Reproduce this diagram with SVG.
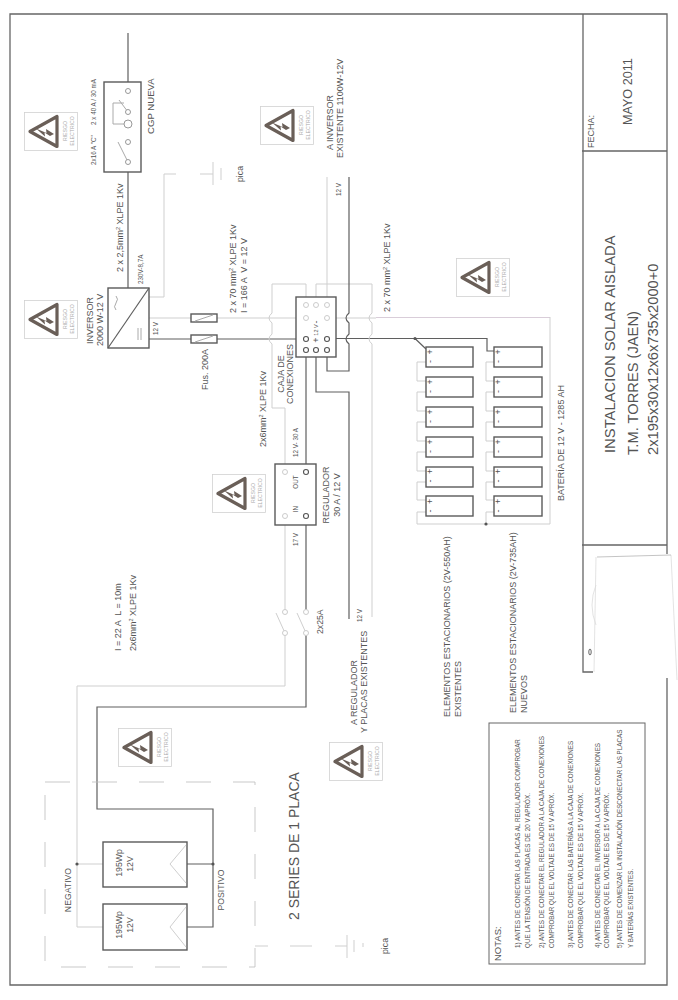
<svg xmlns="http://www.w3.org/2000/svg" width="678" height="1000" viewBox="0 0 678 1000">
<style>
text{font-family:"Liberation Sans",Arial,sans-serif;fill:#555}
.m{text-anchor:middle}
.s8{font-size:9px}.s75{font-size:9px}.s7{font-size:8.7px}.s55{font-size:6.3px}.s5{font-size:6.3px}
.sign{font-size:5.2px;fill:#aaa;text-anchor:middle}
.b{fill:none;stroke:#666;stroke-width:1.3}
.d{fill:none;stroke:#5f5f5f;stroke-width:1.2}
.l{fill:none;stroke:#cfcfcf;stroke-width:1}
.box{fill:#fff;stroke:#5a5a5a;stroke-width:1.4}
.td{fill:#fff;stroke:#555;stroke-width:1.1}
.tl{fill:#fff;stroke:#ccc;stroke-width:1}
.sr{fill:#fff;stroke:#d2d2d2;stroke-width:.8}
</style>
<defs>
<g id="warn">
<rect class="sr" x="0.5" y="0.5" width="53" height="38"/>
<path d="M6 19.5 33 4.5V34.5Z" fill="#fff" stroke="#6a5f58" stroke-width="3.2" stroke-linejoin="round"/>
<path d="M30 22 22 17 22.5 21 12 16.5 21 24.5 20.5 20.5 26 24 Z" fill="#6a5f58"/>
</g>
<circle id="dot" r="1.6" fill="#555"/>
</defs>
<rect width="678" height="1000" fill="#fff"/>

<g id="frame">
<path class="b" d="M667 554V14H10V985H667V678"/>
<path class="b" d="M582 151H667M582 545H667M593 672H583V14"/>
<path d="M596 557 594 672M596 585Q588 605 596 625M671 555 677 680" fill="none" stroke="#dcdcdc" stroke-width=".8"/>
<path d="M597 557 671 555" fill="none" stroke="#aaa" stroke-width=".7"/>
<ellipse cx="590" cy="652" rx="1.2" ry="3" fill="none" stroke="#666" stroke-width="1"/>
</g>

<g id="connectors">
<path class="d" d="M128 33V82M128 172V288"/>
<path class="l" d="M149 297H164V174H176M200 174H213M213 162V185M221 168V180"/>
<path class="l" d="M149 318H191M217 318H306M327 318H376"/>
<path class="d" d="M149 339H191M217 339H306"/>
<path d="M376 317.5H550" fill="none" stroke="#d9cdd9" stroke-width="1"/>
<path class="d" d="M327 338.5H487V351H494M415 338.5 426 349"/>
<path class="l" d="M306 305V284H272V313Q266 318 272 323V334Q266 339 272 344V408H285V464"/>
<path class="l" d="M316 305V284H372V313Q366 318 372 323V334Q366 339 372 344V617"/>
<path class="l" d="M327 305V177"/>
<path class="d" d="M349 177V313Q343 318 349 323V334Q343 339 349 344V371H327V350"/>
<path class="d" d="M316 350V392H349V619"/>
<path class="d" d="M306 350V472"/>
<path class="l" d="M550 317V524H417V512H426M426 482H417V500H426M426 452H417V471H426M426 422H417V441H426M426 392H417V411H426M426 362H417V381H426"/>
<path class="l" d="M486 524V512H494M494 482H486V500H494M494 452H486V471H494M494 422H486V441H494M494 392H486V411H494M494 362H486V381H494"/>
<path class="l" d="M285 516V612M285 633V686H77V927H103M77 864H103"/>
<path class="d" d="M306 516V612M306 633V707H97V809H213V927H187M213 864H187"/>
<path class="l" d="M285 633 276 613M306 633 297 613"/>
<path class="l" d="M255 946H268M290 946H312M335 946H347M347 935V958M354 940V952M363 943V947"/>
</g>

<g id="cgp">
<rect class="box" x="104" y="82" width="37" height="90"/>
<path class="l" style="stroke:#aaa" d="M128 112 119 100M124 103H113V124H124M128 162 118 142"/>
<circle class="tl" style="stroke:#999" cx="128" cy="91" r="2.5"/>
<circle class="tl" style="stroke:#999" cx="128" cy="112" r="2.5"/>
<circle class="tl" style="stroke:#999" cx="128" cy="124" r="4"/>
<circle class="tl" style="stroke:#999" cx="128" cy="142" r="2.5"/>
<circle class="tl" style="stroke:#999" cx="128" cy="162" r="2.5"/>
<text transform="translate(154 134) rotate(-90)" style="font-size:9.6px">CGP NUEVA</text>
<text class="s5" transform="translate(96 165) rotate(-90)">2x16 A "C"</text>
<text class="s5" transform="translate(96 125) rotate(-90)">2 x 40 A / 30 mA</text>
</g>

<g id="sign1" transform="translate(24 112)"><use href="#warn"/><text class="sign" transform="translate(43 19) rotate(-90)">RIESGO</text><text class="sign" transform="translate(49.5 19) rotate(-90)">ELECTRICO</text></g>
<g id="sign2" transform="translate(24 300)"><use href="#warn"/><text class="sign" transform="translate(43 19) rotate(-90)">RIESGO</text><text class="sign" transform="translate(49.5 19) rotate(-90)">ELECTRICO</text></g>
<g id="sign3" transform="translate(260 106)"><use href="#warn"/><text class="sign" transform="translate(43 19) rotate(-90)">RIESGO</text><text class="sign" transform="translate(49.5 19) rotate(-90)">ELECTRICO</text></g>
<g id="sign4" transform="translate(456 258)"><use href="#warn"/><text class="sign" transform="translate(43 19) rotate(-90)">RIESGO</text><text class="sign" transform="translate(49.5 19) rotate(-90)">ELECTRICO</text></g>
<g id="sign5" transform="translate(212 474)"><use href="#warn"/><text class="sign" transform="translate(43 19) rotate(-90)">RIESGO</text><text class="sign" transform="translate(49.5 19) rotate(-90)">ELECTRICO</text></g>
<g id="sign6" transform="translate(118 728)"><use href="#warn"/><text class="sign" transform="translate(43 19) rotate(-90)">RIESGO</text><text class="sign" transform="translate(49.5 19) rotate(-90)">ELECTRICO</text></g>
<g id="sign7" transform="translate(329 742)"><use href="#warn"/><text class="sign" transform="translate(43 19) rotate(-90)">RIESGO</text><text class="sign" transform="translate(49.5 19) rotate(-90)">ELECTRICO</text></g>

<g id="inversor">
<rect class="box" x="108" y="288" width="41" height="60"/>
<path class="d" d="M149 288 108 348"/>
<path class="l" style="stroke:#aaa" d="M116 296Q119 299 116 303Q113 307 116 310M138 328V340M141 328V340"/>
<text class="s8" transform="translate(93 344) rotate(-90)">INVERSOR</text>
<text class="s8" transform="translate(103 346) rotate(-90)">2000 W-12 V</text>
<text class="s5" transform="translate(143 284) rotate(-90)">230V-8,7A</text>
<text class="s5" transform="translate(158 335) rotate(-90)">12 V</text>
</g>

<g id="fusibles">
<rect class="box" x="191" y="314" width="26" height="8"/>
<rect class="box" x="191" y="335" width="26" height="8"/>
<path class="l" style="stroke:#aaa" d="M195 321 213 315M195 342 213 336"/>
<text class="s75" transform="translate(208 390) rotate(-90)">Fus. 200A</text>
</g>

<g id="caja">
<rect class="box" x="296" y="297" width="40" height="60"/>
<circle class="tl" cx="306" cy="305" r="2.5"/><circle class="tl" cx="316" cy="305" r="2.5"/><circle class="tl" cx="327" cy="305" r="2.5"/>
<circle class="tl" cx="306" cy="318" r="2.5"/><circle class="tl" cx="327" cy="318" r="2.5"/>
<circle class="td" cx="306" cy="339" r="2.5"/><circle class="td" cx="327" cy="339" r="2.5"/>
<circle class="td" cx="306" cy="350" r="2.5"/><circle class="td" cx="316" cy="350" r="2.5"/><circle class="td" cx="327" cy="350" r="2.5"/>
<text class="s8 m" transform="translate(319 322) rotate(-90)">-</text>
<text class="m" transform="translate(318 330) rotate(-90)" style="font-size:5.5px">12 V</text>
<text class="s8 m" transform="translate(319 340) rotate(-90)">+</text>
<text class="s8 m" transform="translate(284 374) rotate(-90)">CAJA DE</text>
<text class="s8 m" transform="translate(293 374) rotate(-90)">CONEXIONES</text>
</g>

<g id="regulador">
<rect class="box" x="275" y="464" width="41" height="61"/>
<circle class="tl" cx="285" cy="472" r="2.5"/><circle class="td" cx="306" cy="472" r="2.5"/>
<circle class="tl" cx="285" cy="516" r="2.5"/><circle class="td" cx="306" cy="516" r="2.5"/>
<text class="s5 m" transform="translate(298 482) rotate(-90)">OUT</text>
<text class="s5 m" transform="translate(298 509) rotate(-90)">IN</text>
<text class="s8 m" transform="translate(329 495) rotate(-90)">REGULADOR</text>
<text class="s8 m" transform="translate(340 495) rotate(-90)">30 A / 12 V</text>
<text class="s5" transform="translate(298 457) rotate(-90)">12 V- 30 A</text>
<text class="s5" transform="translate(298 546) rotate(-90)">17 V</text>
</g>

<g id="interruptor">
<circle class="tl" cx="285" cy="612" r="2.5"/><circle class="tl" cx="285" cy="633" r="2.5"/>
<circle class="tl" cx="306" cy="612" r="2.5"/><circle class="tl" cx="306" cy="633" r="2.5"/>
<text class="s7" transform="translate(323 634) rotate(-90)">2x25A</text>
</g>

<g id="baterias">
<rect class="box" x="426" y="347" width="47" height="20"/><rect class="box" x="426" y="377" width="47" height="20"/><rect class="box" x="426" y="407" width="47" height="20"/><rect class="box" x="426" y="437" width="47" height="20"/><rect class="box" x="426" y="467" width="47" height="20"/><rect class="box" x="426" y="496" width="47" height="20"/>
<rect class="box" x="494" y="347" width="48" height="20"/><rect class="box" x="494" y="377" width="48" height="20"/><rect class="box" x="494" y="407" width="48" height="20"/><rect class="box" x="494" y="437" width="48" height="20"/><rect class="box" x="494" y="467" width="48" height="20"/><rect class="box" x="494" y="496" width="48" height="20"/>
<g class="s8">
<text transform="translate(433 354.5) rotate(-90)">+</text><text transform="translate(433 363) rotate(-90)">-</text>
<text transform="translate(433 384.5) rotate(-90)">+</text><text transform="translate(433 393) rotate(-90)">-</text>
<text transform="translate(433 414.5) rotate(-90)">+</text><text transform="translate(433 423) rotate(-90)">-</text>
<text transform="translate(433 444.5) rotate(-90)">+</text><text transform="translate(433 453) rotate(-90)">-</text>
<text transform="translate(433 474) rotate(-90)">+</text><text transform="translate(433 482.5) rotate(-90)">-</text>
<text transform="translate(433 504) rotate(-90)">+</text><text transform="translate(433 512.5) rotate(-90)">-</text>
<text transform="translate(501 354.5) rotate(-90)">+</text><text transform="translate(501 363) rotate(-90)">-</text>
<text transform="translate(501 384.5) rotate(-90)">+</text><text transform="translate(501 393) rotate(-90)">-</text>
<text transform="translate(501 414.5) rotate(-90)">+</text><text transform="translate(501 423) rotate(-90)">-</text>
<text transform="translate(501 444.5) rotate(-90)">+</text><text transform="translate(501 453) rotate(-90)">-</text>
<text transform="translate(501 474) rotate(-90)">+</text><text transform="translate(501 482.5) rotate(-90)">-</text>
<text transform="translate(501 504) rotate(-90)">+</text><text transform="translate(501 512.5) rotate(-90)">-</text>
</g>
<use href="#dot" x="415" y="338.5"/><use href="#dot" x="486" y="524"/>
<text class="s75" transform="translate(564 501) rotate(-90)">BATERÍA DE 12 V - 1285 AH</text>
<text class="s8" transform="translate(450 717) rotate(-90)">ELEMENTOS ESTACIONARIOS (2V-550AH)</text>
<text class="s8" transform="translate(461 717) rotate(-90)">EXISTENTES</text>
<text class="s8" transform="translate(516 713) rotate(-90)">ELEMENTOS ESTACIONARIOS (2V-735AH)</text>
<text class="s8" transform="translate(527 713) rotate(-90)">NUEVOS</text>
</g>

<g id="placas">
<path d="M45 782H255V967H45Z" fill="none" stroke="#bbb" stroke-width=".8" stroke-dasharray="25 22"/>
<rect class="box" x="103" y="842" width="84" height="45"/>
<rect class="box" x="103" y="904" width="84" height="46"/>
<path class="l" d="M186 845 170 864 186 883M186 907 170 927 186 947"/>
<use href="#dot" x="77" y="864"/><use href="#dot" x="213" y="864"/>
<text class="s7 m" transform="translate(122 863) rotate(-90)">195Wp</text>
<text class="s7 m" transform="translate(133 864) rotate(-90)">12V</text>
<text class="s7 m" transform="translate(122 925) rotate(-90)">195Wp</text>
<text class="s7 m" transform="translate(133 925) rotate(-90)">12V</text>
<text class="s7 m" transform="translate(71 890) rotate(-90)">NEGATIVO</text>
<text class="s7 m" transform="translate(224 890) rotate(-90)">POSITIVO</text>
<text transform="translate(299 920) rotate(-90)" style="font-size:14px">2 SERIES DE 1 PLACA</text>
<text class="s7 m" transform="translate(388 946) rotate(-90)">pica</text>
</g>

<g id="etiquetas">
<text class="s7 m" transform="translate(243 174) rotate(-90)">pica</text>
<text class="s8" transform="translate(123 272) rotate(-90)">2 x 2,5mm<tspan dy="-3" font-size="5.5">2</tspan><tspan dy="3"> XLPE 1Kv</tspan></text>
<text class="s8" transform="translate(236 313) rotate(-90)">2 x 70 mm<tspan dy="-3" font-size="5.5">2</tspan><tspan dy="3"> XLPE 1Kv</tspan></text>
<text class="s8" transform="translate(247 313) rotate(-90)" xml:space="preserve">I = 166 A  V = 12 V</text>
<text class="s8" transform="translate(390 312) rotate(-90)">2 x 70 mm<tspan dy="-3" font-size="5.5">2</tspan><tspan dy="3"> XLPE 1Kv</tspan></text>
<text class="s8" transform="translate(266 447) rotate(-90)">2x6mm<tspan dy="-3" font-size="5.5">2</tspan><tspan dy="3"> XLPE 1Kv</tspan></text>
<text class="s8" transform="translate(333 150) rotate(-90)">A INVERSOR</text>
<text class="s8" transform="translate(343 158) rotate(-90)">EXISTENTE 1100W-12V</text>
<text class="s5" transform="translate(341 196) rotate(-90)">12 V</text>
<text class="s8" transform="translate(121 651) rotate(-90)" xml:space="preserve">I = 22 A  L = 10m</text>
<text class="s8" transform="translate(136 651) rotate(-90)">2x6mm<tspan dy="-3" font-size="5.5">2</tspan><tspan dy="3"> XLPE 1Kv</tspan></text>
<text class="s5" transform="translate(362 622) rotate(-90)">12 V</text>
<text class="s8" transform="translate(357 725) rotate(-90)">A REGULADOR</text>
<text class="s8" transform="translate(367 733) rotate(-90)">Y PLACAS EXISTENTES</text>
</g>

<g id="notas">
<rect x="489" y="723" width="156" height="241" fill="#fff" stroke="#666" stroke-width="1"/>
<text transform="translate(501 961) rotate(-90)" style="font-size:9.5px">NOTAS:</text>
<g class="s55">
<text transform="translate(520 948) rotate(-90)">1) ANTES DE CONECTAR LAS PLACAS AL REGULADOR COMPROBAR</text>
<text transform="translate(530 948) rotate(-90)">QUE LA TENSIÓN DE ENTRADA ES DE 20 V APRÓX.</text>
<text transform="translate(544 948) rotate(-90)">2) ANTES DE CONECTAR EL REGULADOR A LA CAJA DE CONEXIONES</text>
<text transform="translate(554 948) rotate(-90)">COMPROBAR QUE EL VOLTAJE ES DE 15 V APRÓX.</text>
<text transform="translate(573 948) rotate(-90)">3) ANTES DE CONECTAR LAS BATERÍAS A LA CAJA DE CONEXIONES</text>
<text transform="translate(583 948) rotate(-90)">COMPROBAR QUE EL VOLTAJE ES DE 15 V APRÓX.</text>
<text transform="translate(600 948) rotate(-90)">4) ANTES DE CONECTAR EL INVERSOR A LA CAJA DE CONEXIONES</text>
<text transform="translate(609 948) rotate(-90)">COMPROBAR QUE EL VOLTAJE ES DE 15 V APRÓX.</text>
<text transform="translate(622 948) rotate(-90)">5) ANTES DE COMENZAR LA INSTALACIÓN DESCONECTAR LAS PLACAS</text>
<text transform="translate(633 948) rotate(-90)">Y BATERÍAS EXISTENTES.</text>
</g>
</g>

<g id="titulo">
<text transform="translate(594 148) rotate(-90)" style="font-size:9px">FECHA:</text>
<text transform="translate(632 125) rotate(-90)" style="font-size:12.6px">MAYO 2011</text>
<text transform="translate(615 453) rotate(-90)" style="font-size:14.8px">INSTALACION SOLAR AISLADA</text>
<text transform="translate(638 455) rotate(-90)" style="font-size:14.7px">T.M. TORRES (JAEN)</text>
<text transform="translate(658 455) rotate(-90)" style="font-size:14.7px">2x195x30x12x6x735x2000+0</text>
</g>
</svg>
